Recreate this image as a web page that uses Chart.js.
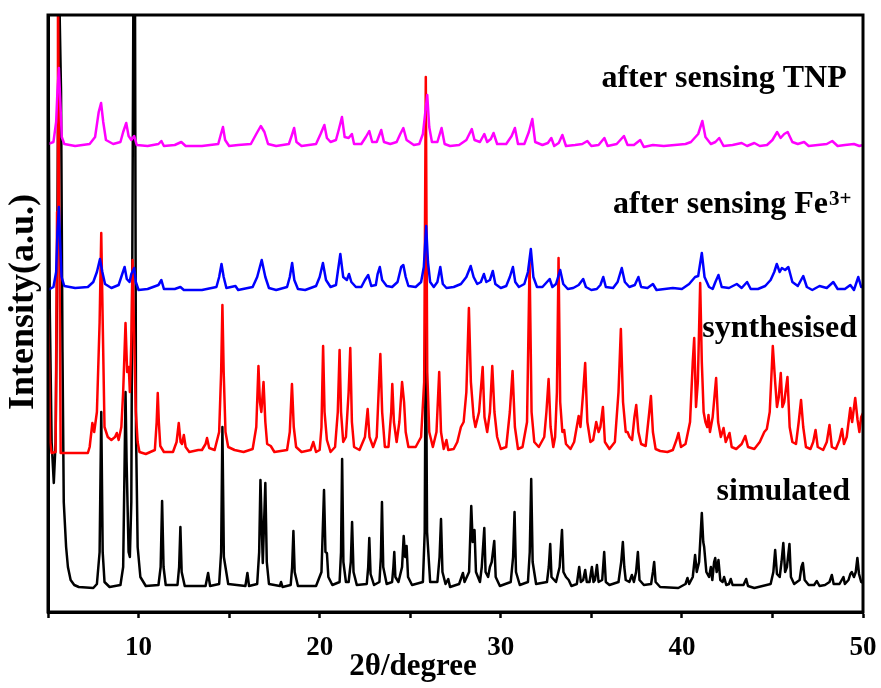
<!DOCTYPE html>
<html>
<head>
<meta charset="utf-8">
<script src="https://cdn.jsdelivr.net/npm/chart.js@4.4.1/dist/chart.umd.min.js"></script>
<style>
  html, body { margin: 0; padding: 0; background: #fff; }
  #wrap { width: 881px; height: 688px; }
</style>
</head>
<body>
<div id="wrap"><canvas id="xrd" width="881" height="688"></canvas></div>
<script>
// Powder XRD patterns, [2θ (deg), intensity (a.u., offset stacked)]
const simulated = [
  [5.0,640],[5.1,300],[5.2,170],[5.32,129],[5.42,170],[5.5,330],[5.6,640],[5.72,520],[5.8,260],[5.87,110],
  [6.0,65],[6.1,45],[6.25,32],[6.45,27],[6.7,25],[7.5,24],[7.7,28],[7.85,60],[7.94,200],[8.02,60],[8.12,30],
  [8.4,25],[9.0,27],[9.15,45],[9.23,150],[9.28,220],[9.34,150],[9.45,60],[9.52,55],[9.6,110],[9.72,640],
  [9.8,640],[9.86,180],[9.95,65],[10.1,35],[10.4,26],[11.1,27],[11.22,45],[11.3,111],[11.38,45],[11.5,27],
  [12.15,27],[12.24,45],[12.31,85],[12.38,40],[12.55,26],[13.7,26],[13.84,39],[13.95,26],[14.45,28],
  [14.56,60],[14.63,185],[14.71,55],[14.95,28],[15.9,26],[16.01,39],[16.1,26],[16.55,28],[16.66,60],
  [16.73,132],[16.86,49],[17.0,129],[17.08,50],[17.2,28],[17.8,26],[17.87,30],[17.95,25],[18.4,27],
  [18.48,45],[18.55,81],[18.62,40],[18.8,26],[19.8,26],[20.1,40],[20.24,122],[20.32,60],[20.4,59],
  [20.48,35],[20.7,27],[21.1,30],[21.18,60],[21.24,153],[21.31,50],[21.45,30],[21.6,30],[21.72,50],
  [21.79,90],[21.87,40],[22.05,27],[22.6,28],[22.68,45],[22.74,74],[22.81,38],[23.0,27],[23.3,30],
  [23.38,55],[23.44,110],[23.51,45],[23.7,28],[24.0,30],[24.07,45],[24.12,60],[24.18,35],[24.35,30],
  [24.55,45],[24.64,76],[24.72,55],[24.8,66],[24.88,35],[25.1,27],[25.7,30],[25.8,80],[25.86,300],
  [25.93,80],[26.1,30],[26.5,30],[26.62,55],[26.7,93],[26.78,40],[26.95,28],[27.1,33],[27.2,25],
  [27.7,28],[27.91,39],[28.0,30],[28.25,40],[28.37,106],[28.45,70],[28.55,82],[28.63,40],[28.85,30],
  [28.95,45],[29.09,84],[29.16,40],[29.3,35],[29.4,45],[29.5,50],[29.64,71],[29.72,35],[29.95,26],
  [30.55,30],[30.68,55],[30.76,100],[30.84,40],[31.05,27],[31.5,30],[31.6,60],[31.68,133],[31.76,50],
  [31.95,28],[32.55,30],[32.65,45],[32.73,68],[32.8,35],[33.05,30],[33.25,45],[33.38,82],[33.46,40],
  [33.6,35],[33.75,32],[33.9,26],[34.2,28],[34.33,45],[34.42,30],[34.55,32],[34.66,42],[34.75,30],
  [34.9,30],[35.03,45],[35.12,30],[35.2,32],[35.31,47],[35.4,30],[35.6,32],[35.71,60],[35.8,30],
  [36.0,27],[36.5,30],[36.65,50],[36.74,70],[36.82,45],[36.9,32],[37.1,30],[37.24,37],[37.35,30],
  [37.47,40],[37.57,60],[37.66,32],[37.9,27],[38.3,28],[38.4,40],[38.47,50],[38.55,30],[38.8,25],
  [39.8,24],[40.2,28],[40.31,34],[40.4,28],[40.6,35],[40.73,57],[40.82,40],[40.95,50],[41.1,99],
  [41.18,70],[41.23,65],[41.35,40],[41.5,35],[41.6,45],[41.68,32],[41.78,50],[41.84,54],[41.92,40],
  [42.02,52],[42.12,32],[42.25,30],[42.33,35],[42.45,27],[42.6,28],[42.7,33],[42.8,27],[43.4,27],
  [43.55,33],[43.65,26],[44.0,24],[44.9,28],[45.05,40],[45.15,62],[45.25,38],[45.4,35],[45.5,50],
  [45.6,69],[45.7,40],[45.8,45],[45.94,68],[46.02,35],[46.2,28],[46.5,32],[46.6,45],[46.68,49],
  [46.78,32],[47.0,27],[47.3,27],[47.45,31],[47.6,26],[47.9,27],[48.15,30],[48.28,37],[48.38,28],
  [48.7,28],[48.92,35],[49.0,28],[49.2,32],[49.3,38],[49.38,40],[49.5,35],[49.6,40],[49.69,54],
  [49.78,38],[49.9,30],[50.0,29]
];

const synthesised = [
  [5.0,303],[5.06,250],[5.12,170],[5.2,159],[5.42,160],[5.5,400],[5.55,640],[5.62,400],[5.7,159],
  [7.2,159],[7.3,165],[7.45,189],[7.55,180],[7.7,200],[7.85,290],[7.94,379],[8.03,280],[8.12,185],
  [8.3,175],[8.5,172],[8.7,175],[8.8,179],[8.9,172],[9.05,185],[9.15,220],[9.28,289],[9.37,240],
  [9.46,245],[9.52,220],[9.6,270],[9.67,352],[9.75,280],[9.85,200],[9.95,170],[10.05,160],[10.4,158],
  [10.9,162],[11.0,190],[11.06,219],[11.12,190],[11.2,166],[11.4,160],[11.9,160],[12.1,170],[12.22,189],
  [12.32,170],[12.4,168],[12.5,177],[12.6,165],[12.8,160],[13.3,162],[13.5,162],[13.7,168],[13.78,174],
  [13.9,164],[14.2,162],[14.45,180],[14.56,240],[14.63,307],[14.7,240],[14.8,180],[14.95,165],
  [15.3,162],[15.8,160],[16.3,163],[16.5,185],[16.62,246],[16.7,210],[16.78,200],[16.9,230],[17.0,190],
  [17.1,168],[17.3,166],[17.5,160],[18.2,162],[18.35,180],[18.47,228],[18.57,185],[18.7,165],[19.0,160],
  [19.5,162],[19.65,170],[19.8,160],[20.0,162],[20.1,185],[20.19,266],[20.27,200],[20.4,172],[20.6,160],
  [20.85,165],[21.0,200],[21.1,262],[21.18,200],[21.3,170],[21.45,175],[21.6,220],[21.69,264],[21.78,190],
  [21.9,165],[22.2,162],[22.5,175],[22.65,203],[22.75,175],[22.95,165],[23.15,175],[23.28,230],[23.35,258],
  [23.45,200],[23.6,165],[23.8,165],[23.95,200],[24.01,228],[24.1,190],[24.25,170],[24.4,190],[24.55,230],
  [24.66,210],[24.75,180],[24.9,165],[25.3,165],[25.6,175],[25.77,230],[25.86,535],[25.94,240],[26.05,180],
  [26.25,165],[26.45,180],[26.6,240],[26.7,180],[26.85,163],[27.0,172],[27.1,162],[27.4,163],[27.6,170],
  [27.8,185],[27.95,190],[28.1,220],[28.24,304],[28.35,230],[28.5,195],[28.6,185],[28.8,200],[29.0,245],
  [29.1,195],[29.25,180],[29.4,200],[29.53,246],[29.65,200],[29.8,175],[30.0,163],[30.3,165],[30.5,200],
  [30.65,241],[30.78,185],[30.95,163],[31.2,165],[31.45,190],[31.59,350],[31.7,200],[31.85,170],[32.1,165],
  [32.4,175],[32.52,200],[32.64,233],[32.75,185],[32.9,165],[33.0,175],[33.1,220],[33.19,354],[33.28,210],
  [33.4,180],[33.5,182],[33.6,168],[33.85,163],[34.05,170],[34.3,196],[34.4,185],[34.55,220],[34.66,249],
  [34.78,190],[34.95,170],[35.1,172],[35.27,190],[35.4,180],[35.5,185],[35.64,205],[35.75,170],[36.0,163],
  [36.3,170],[36.5,220],[36.63,283],[36.75,210],[36.9,180],[37.0,180],[37.11,175],[37.25,172],[37.38,195],
  [37.48,207],[37.6,180],[37.75,168],[38.0,166],[38.2,200],[38.29,216],[38.4,180],[38.55,163],[38.8,161],
  [39.2,160],[39.5,162],[39.7,172],[39.81,179],[39.95,165],[40.2,168],[40.45,190],[40.6,250],[40.68,274],
  [40.78,205],[40.88,230],[41.01,329],[41.1,250],[41.2,200],[41.3,190],[41.4,185],[41.47,197],[41.55,180],
  [41.7,195],[41.89,234],[42.0,190],[42.15,175],[42.3,184],[42.42,170],[42.63,179],[42.75,165],[43.0,163],
  [43.3,168],[43.5,176],[43.65,165],[44.0,163],[44.3,170],[44.55,180],[44.69,183],[44.85,200],[45.02,266],
  [45.15,230],[45.25,205],[45.35,215],[45.46,239],[45.55,205],[45.65,210],[45.83,235],[45.95,185],[46.1,170],
  [46.3,168],[46.45,190],[46.58,212],[46.7,185],[46.85,165],[47.1,163],[47.25,170],[47.38,182],[47.5,165],
  [47.8,162],[48.0,170],[48.15,187],[48.28,165],[48.5,163],[48.7,172],[48.84,183],[48.95,168],[49.1,175],
  [49.3,204],[49.4,190],[49.57,214],[49.7,192],[49.8,180],[49.9,195],[50.0,199]
];

const afterFe = [
  [5.0,322],[5.3,325],[5.45,340],[5.52,380],[5.6,405],[5.67,370],[5.75,335],[5.9,326],[6.5,324],[7.2,325],
  [7.5,330],[7.7,340],[7.87,353],[8.0,340],[8.15,328],[8.5,324],[8.9,327],[9.1,338],[9.23,345],[9.35,333],
  [9.5,330],[9.6,338],[9.76,344],[9.85,330],[10.0,322],[10.5,323],[11.1,327],[11.26,332],[11.4,323],
  [12.0,323],[12.31,325],[12.5,322],[13.5,322],[14.3,325],[14.45,335],[14.58,348],[14.7,335],[14.85,324],
  [15.35,326],[15.5,322],[16.3,325],[16.55,335],[16.8,352],[17.0,335],[17.2,324],[17.6,322],[18.2,325],
  [18.35,335],[18.48,349],[18.6,332],[18.8,323],[19.2,322],[19.8,326],[20.0,335],[20.18,349],[20.35,332],
  [20.6,325],[20.9,327],[21.0,340],[21.14,358],[21.3,335],[21.5,332],[21.62,338],[21.75,330],[22.0,325],
  [22.3,325],[22.5,332],[22.68,337],[22.85,326],[23.1,327],[23.2,338],[23.32,345],[23.45,332],[23.7,326],
  [24.0,325],[24.3,330],[24.5,345],[24.62,347],[24.75,335],[24.9,326],[25.3,325],[25.6,330],[25.75,345],
  [25.88,386],[25.98,350],[26.1,330],[26.3,325],[26.5,330],[26.66,345],[26.8,328],[27.0,324],[27.4,325],
  [27.8,328],[28.1,335],[28.34,346],[28.5,335],[28.7,328],[28.9,330],[29.07,338],[29.2,330],[29.4,332],
  [29.56,341],[29.7,328],[30.0,324],[30.3,326],[30.5,335],[30.67,345],[30.8,330],[31.0,325],[31.3,328],
  [31.5,340],[31.66,363],[31.8,335],[32.0,325],[32.3,325],[32.55,330],[32.7,333],[32.85,325],[33.05,328],
  [33.28,342],[33.45,328],[33.7,323],[34.0,324],[34.3,327],[34.55,333],[34.7,325],[35.0,322],[35.3,323],
  [35.5,327],[35.66,335],[35.8,325],[36.2,324],[36.45,330],[36.68,344],[36.85,330],[37.1,325],[37.4,327],
  [37.6,335],[37.75,325],[38.1,324],[38.4,328],[38.6,322],[39.5,324],[40.0,323],[40.4,328],[40.73,335],
  [40.9,336],[41.1,359],[41.25,335],[41.5,325],[41.7,323],[41.85,330],[42.02,337],[42.2,325],[42.6,324],
  [43.03,328],[43.3,324],[43.6,330],[43.8,323],[44.2,323],[44.6,326],[44.9,332],[45.1,340],[45.24,348],
  [45.4,340],[45.52,344],[45.7,342],[45.88,345],[46.1,330],[46.4,326],[46.7,336],[46.9,325],[47.2,322],
  [47.6,326],[48.0,324],[48.36,330],[48.6,323],[49.0,323],[49.3,327],[49.5,322],[49.74,335],[49.9,325],
  [50.0,325]
];

const afterTNP = [
  [5.0,468],[5.3,470],[5.45,490],[5.52,520],[5.6,544],[5.68,510],[5.76,475],[5.9,468],[6.5,466],[7.3,468],
  [7.6,475],[7.8,500],[7.93,509],[8.05,490],[8.2,472],[8.6,468],[9.0,470],[9.15,480],[9.32,489],[9.45,476],
  [9.6,472],[9.76,476],[9.9,467],[10.5,466],[11.1,468],[11.26,471],[11.4,466],[12.0,467],[12.36,470],
  [12.6,466],[13.5,466],[14.4,468],[14.55,478],[14.66,485],[14.78,472],[15.0,466],[15.5,467],[16.2,468],
  [16.5,478],[16.75,486],[16.95,480],[17.15,468],[17.6,466],[18.3,468],[18.45,476],[18.59,484],[18.72,470],
  [19.0,466],[19.8,468],[20.05,478],[20.26,487],[20.4,474],[20.6,470],[20.9,472],[21.05,482],[21.23,495],
  [21.38,475],[21.6,474],[21.78,478],[21.9,468],[22.3,468],[22.55,475],[22.74,481],[22.9,470],[23.15,470],
  [23.4,482],[23.55,470],[23.9,468],[24.25,470],[24.45,478],[24.62,484],[24.8,472],[25.2,467],[25.5,468],
  [25.7,478],[25.94,517],[26.05,485],[26.2,470],[26.5,470],[26.73,484],[26.9,468],[27.2,466],[27.7,467],
  [28.1,472],[28.4,483],[28.55,472],[28.85,470],[29.09,478],[29.25,470],[29.45,473],[29.6,479],[29.8,468],
  [30.3,468],[30.6,476],[30.78,484],[30.95,468],[31.3,468],[31.55,480],[31.74,493],[31.9,470],[32.3,467],
  [32.6,469],[32.79,474],[32.95,466],[33.2,469],[33.4,477],[33.6,466],[34.1,467],[34.5,468],[34.78,471],
  [35.0,466],[35.4,467],[35.72,474],[35.9,466],[36.4,468],[36.8,476],[37.0,467],[37.35,467],[37.7,472],
  [37.9,465],[38.4,467],[39.0,466],[39.6,467],[40.2,468],[40.5,470],[40.9,478],[41.13,491],[41.3,475],
  [41.6,468],[41.85,470],[42.06,474],[42.3,466],[42.8,467],[43.3,469],[43.6,466],[44.0,469],[44.3,466],
  [44.7,467],[45.0,472],[45.26,480],[45.45,474],[45.65,478],[45.84,480],[46.1,470],[46.4,468],[46.75,470],
  [47.0,466],[47.5,467],[48.0,468],[48.3,471],[48.6,466],[49.0,467],[49.5,468],[49.8,466],[50.0,467]
];

const xTickValues = [5, 10, 15, 20, 25, 30, 35, 40, 45, 50];
const xTickLabels = ['', '10', '', '20', '', '30', '', '40', '', '50'];
const traceNames = ['after sensing TNP', 'after sensing Fe', 'synthesised', 'simulated'];
const axisTitles = { x: '2θ/degree', y: 'Intensity(a.u.)' };

const SERIF = '"Liberation Serif", "Times New Roman", serif';

// black frame round the plotting area
const framePlugin = {
  id: 'frame',
  afterDraw(chart) {
    const { ctx, chartArea: a } = chart;
    ctx.save();
    ctx.lineWidth = 3;
    ctx.strokeStyle = '#000';
    ctx.strokeRect(a.left, a.top, a.right - a.left, a.bottom - a.top);
    ctx.restore();
  }
};

// axis titles, placed off-centre the way the figure sets them
const axisTitlePlugin = {
  id: 'axisTitles',
  afterDraw(chart) {
    const { ctx } = chart;
    ctx.save();
    ctx.fillStyle = '#000';
    ctx.textAlign = 'center';
    ctx.textBaseline = 'middle';
    ctx.font = 'bold 31px ' + SERIF;
    ctx.fillText(axisTitles.x, 413, 667);
    ctx.translate(24, 302);
    ctx.rotate(-Math.PI / 2);
    ctx.font = 'bold 36px ' + SERIF;
    ctx.fillText(axisTitles.y, 0, 0);
    ctx.restore();
  }
};

// right-aligned names beside each pattern, anchored in data units
const nameAnchors = [
  { text: traceNames[0], x: 49.1,  y: 525 },
  { text: traceNames[1], x: 48.07, y: 399, sup: '3+' },
  { text: traceNames[2], x: 49.67, y: 275 },
  { text: traceNames[3], x: 49.28, y: 112 }
];
const namePlugin = {
  id: 'traceNames',
  afterDraw(chart) {
    const { ctx } = chart;
    const xs = chart.scales.x, ys = chart.scales.y;
    ctx.save();
    ctx.fillStyle = '#000';
    ctx.textBaseline = 'alphabetic';
    nameAnchors.forEach(n => {
      const px = xs.getPixelForValue(n.x), py = ys.getPixelForValue(n.y);
      ctx.font = 'bold 32px ' + SERIF;
      ctx.textAlign = 'right';
      ctx.fillText(n.text, px, py);
      if (n.sup) {
        ctx.font = 'bold 21px ' + SERIF;
        ctx.textAlign = 'left';
        ctx.fillText(n.sup, px + 1, py - 8);
      }
    });
    ctx.restore();
  }
};

const toPts = arr => arr.map(([x, y]) => ({ x, y }));
const lineStyle = { pointRadius: 0, borderWidth: 2.5, tension: 0, borderJoinStyle: 'round', fill: false };

new Chart(document.getElementById('xrd'), {
  type: 'line',
  data: {
    datasets: [
      { label: traceNames[0], data: toPts(afterTNP), borderColor: '#ff00ff', order: 0, ...lineStyle },
      { label: traceNames[1] + '3+', data: toPts(afterFe), borderColor: '#0000ff', order: 1, ...lineStyle },
      { label: traceNames[2], data: toPts(synthesised), borderColor: '#ff0000', order: 2, ...lineStyle },
      { label: traceNames[3], data: toPts(simulated), borderColor: '#000000', order: 3, ...lineStyle }
    ]
  },
  options: {
    responsive: false,
    animation: false,
    events: [],
    layout: { padding: { left: 0, right: 18, top: 15, bottom: 0 } },
    plugins: { legend: { display: false }, tooltip: { enabled: false } },
    scales: {
      x: {
        type: 'linear', min: 5, max: 50,
        afterFit(s) { s.height = 76; s.paddingLeft = 0; s.paddingRight = 14; },
        afterBuildTicks(s) { s.ticks = xTickValues.map(v => ({ value: v })); },
        ticks: {
          autoSkip: false, maxRotation: 0, color: '#000', padding: 14,
          font: { family: SERIF, size: 27, weight: 'bold' },
          callback: (v, i) => xTickLabels[i]
        },
        grid: { drawOnChartArea: false, drawTicks: true, tickLength: 6, tickWidth: 2.5, tickColor: '#000' },
        border: { display: true, color: '#000', width: 3 },
        title: { display: false }
      },
      y: {
        min: 0, max: 597,
        afterFit(s) { s.width = 48; },
        ticks: { display: false },
        grid: { display: false, drawTicks: false },
        border: { display: true, color: '#000', width: 3 },
        title: { display: false }
      }
    }
  },
  plugins: [framePlugin, axisTitlePlugin, namePlugin]
});
</script>
</body>
</html>
